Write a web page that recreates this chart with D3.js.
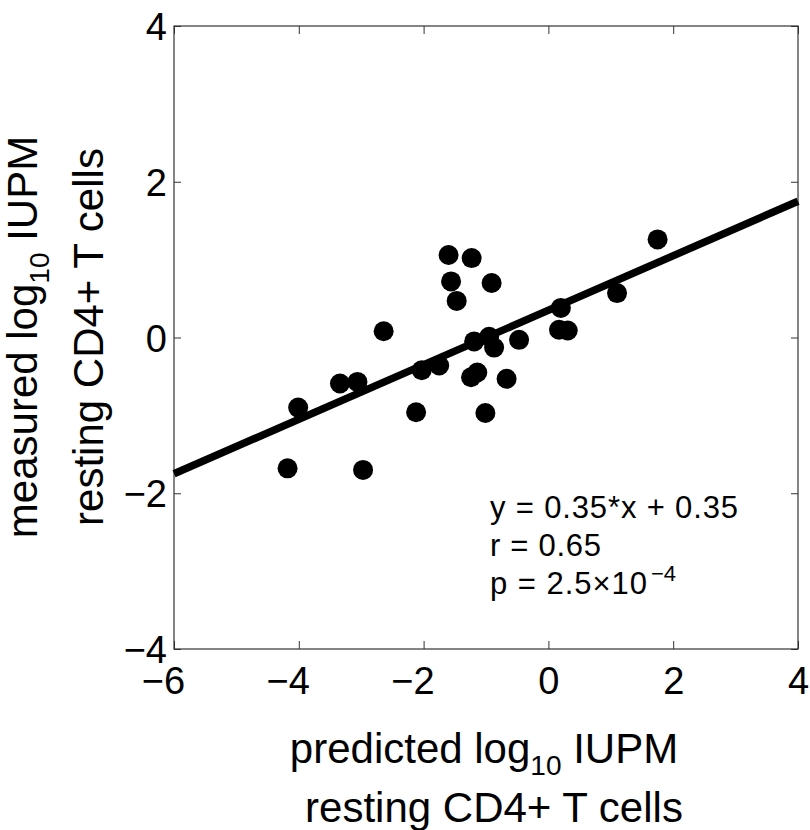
<!DOCTYPE html>
<html>
<head>
<meta charset="utf-8">
<script src="https://cdn.jsdelivr.net/npm/d3@7"></script>
<style>
  html, body { margin: 0; padding: 0; background: #fff; }
  svg { display: block; }
  text { font-family: "Liberation Sans", Arial, Helvetica, sans-serif; fill: #000; }
</style>
</head>
<body>
<svg id="chart" width="810" height="830"></svg>
<script>
// ---- data ----
const predicted = [-1.60, -1.23, -1.56, -0.91, -1.47, -2.64, -1.19, -0.95, -0.87, -0.47,
                   -2.03, -1.75, -1.24, -1.14, -0.67, -3.34, -3.06, -4.01, -2.12, -1.01,
                   -4.18, -2.97, 1.75, 1.10, 0.20, 0.17, 0.31];
const measured  = [1.06, 1.02, 0.72, 0.70, 0.47, 0.08, -0.05, 0.01, -0.13, -0.03,
                   -0.42, -0.36, -0.51, -0.45, -0.53, -0.59, -0.57, -0.90, -0.96, -0.97,
                   -1.68, -1.70, 1.26, 0.57, 0.38, 0.10, 0.09];
const xTicks = [-6, -4, -2, 0, 2, 4];
const yTicks = [-4, -2, 0, 2, 4];
const fitSlope = 0.35;
const fitIntercept = 0.35;
const fitXRange = [-6, 4];

// ---- layout ----
const L = 174, R = 798, T = 26, B = 649;
const svg = d3.select("#chart");
const x = d3.scaleLinear().domain([-6, 4]).range([L, R]);
const y = d3.scaleLinear().domain([-4, 4]).range([B, T]);

const axisColor = "#333";
const tickFont = 38;
const digitW = 0.556 * tickFont;

// bottom axis
const gB = svg.append("g").attr("transform", `translate(0,${B})`)
  .call(d3.axisBottom(x).tickValues(xTicks).tickSize(-8).tickPadding(0).tickSizeOuter(0));
gB.select(".domain").remove();
gB.selectAll(".tick line").attr("stroke", axisColor).attr("stroke-width", 1);
gB.selectAll(".tick text")
  .attr("font-size", tickFont).attr("font-family", null)
  .attr("dy", null).attr("y", 45)
  .attr("text-anchor", d => d < 0 ? "end" : "middle")
  .attr("x", d => d < 0 ? digitW / 2 : 0);

// top axis ticks
const gT = svg.append("g").attr("transform", `translate(0,${T})`)
  .call(d3.axisTop(x).tickValues(xTicks).tickSize(-8).tickFormat("").tickSizeOuter(0));
gT.select(".domain").remove();
gT.selectAll(".tick line").attr("stroke", axisColor).attr("stroke-width", 1);

// left axis
const gL = svg.append("g").attr("transform", `translate(${L},0)`)
  .call(d3.axisLeft(y).tickValues(yTicks).tickSize(-7).tickPadding(0).tickSizeOuter(0));
gL.select(".domain").remove();
gL.selectAll(".tick line").attr("stroke", axisColor).attr("stroke-width", 1);
gL.selectAll(".tick text")
  .attr("font-size", tickFont).attr("font-family", null)
  .attr("x", -7).attr("dy", "0.36em")
  .attr("text-anchor", "end");

// right axis ticks
const gR = svg.append("g").attr("transform", `translate(${R},0)`)
  .call(d3.axisRight(y).tickValues(yTicks).tickSize(-7).tickFormat("").tickSizeOuter(0));
gR.select(".domain").remove();
gR.selectAll(".tick line").attr("stroke", axisColor).attr("stroke-width", 1);

// box
svg.append("rect")
  .attr("x", L).attr("y", T).attr("width", R - L).attr("height", B - T)
  .attr("fill", "none").attr("stroke", axisColor).attr("stroke-width", 1.2);

// fit line
const line = d3.line().x(d => x(d)).y(d => y(fitSlope * d + fitIntercept));
svg.append("path")
  .datum(fitXRange)
  .attr("d", line)
  .attr("fill", "none").attr("stroke", "#000").attr("stroke-width", 7.5);

// points
svg.append("g").selectAll("circle")
  .data(predicted.map((p, i) => [p, measured[i]]))
  .join("circle")
  .attr("cx", d => x(d[0])).attr("cy", d => y(d[1]))
  .attr("r", 10).attr("fill", "#000");

// x label
const labFont = 42;
const xl1 = svg.append("text").attr("x", 484).attr("y", 763)
  .attr("text-anchor", "middle").attr("font-size", labFont);
xl1.append("tspan").text("predicted log");
xl1.append("tspan").attr("font-size", 28).attr("dy", 12).text("10");
xl1.append("tspan").attr("dy", -12).text(" IUPM");
svg.append("text").attr("x", 494).attr("y", 822)
  .attr("text-anchor", "middle").attr("font-size", labFont)
  .text("resting CD4+ T cells");

// y label
const yl1 = svg.append("text")
  .attr("transform", "translate(37,337) rotate(-90)")
  .attr("text-anchor", "middle").attr("font-size", labFont);
yl1.append("tspan").text("measured log");
yl1.append("tspan").attr("font-size", 28).attr("dy", 12).text("10");
yl1.append("tspan").attr("dy", -12).text(" IUPM");
svg.append("text")
  .attr("transform", "translate(103,337) rotate(-90)")
  .attr("text-anchor", "middle").attr("font-size", labFont)
  .text("resting CD4+ T cells");

// annotation
const annFont = 31;
svg.append("text").attr("x", 490).attr("y", 518).attr("font-size", annFont)
  .attr("textLength", 248).attr("lengthAdjust", "spacing")
  .text("y = 0.35*x + 0.35");
svg.append("text").attr("x", 490).attr("y", 556).attr("font-size", annFont)
  .attr("textLength", 111).attr("lengthAdjust", "spacing")
  .text("r = 0.65");
const pt = svg.append("text").attr("x", 490).attr("y", 594).attr("font-size", annFont);
pt.append("tspan").attr("textLength", 157).attr("lengthAdjust", "spacing").text("p = 2.5\u00D710");
pt.append("tspan").attr("font-size", 22).attr("dx", 3).attr("dy", -13).text("\u22124");
</script>
</body>
</html>
